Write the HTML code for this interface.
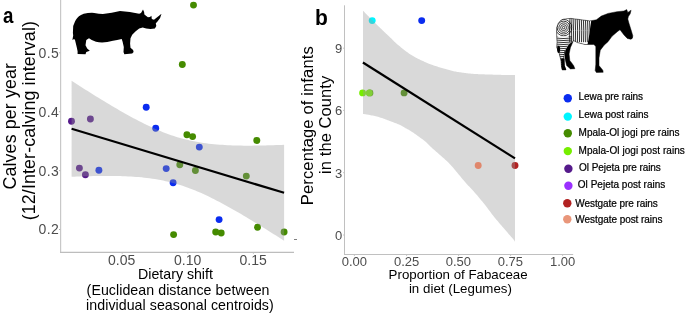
<!DOCTYPE html>
<html><head><meta charset="utf-8">
<style>
html,body{margin:0;padding:0;background:#fff;}
body{width:685px;height:315px;overflow:hidden;}
svg{display:block;will-change:transform;font-family:"Liberation Sans",sans-serif;}
.tk{fill:#4d4d4d;}
</style></head><body>
<svg width="685" height="315" viewBox="0 0 685 315" xmlns="http://www.w3.org/2000/svg">
<rect width="685" height="315" fill="#fff"/>

<!-- ================= PANEL A ================= -->
<!-- points (under ribbon) -->
<g id="ptsA">
<circle cx="71.5" cy="121.3" r="3.45" fill="#551A8B"/>
<circle cx="90.4" cy="119.0" r="3.45" fill="#551A8B"/>
<circle cx="79.4" cy="168.1" r="3.45" fill="#551A8B"/>
<circle cx="85.4" cy="174.7" r="3.45" fill="#551A8B"/>
<circle cx="98.9" cy="170.3" r="3.45" fill="#0a2cf0"/>
<circle cx="146.2" cy="107.2" r="3.45" fill="#0a2cf0"/>
<circle cx="155.7" cy="128.2" r="3.45" fill="#0a2cf0"/>
<circle cx="166.2" cy="168.6" r="3.45" fill="#0a2cf0"/>
<circle cx="173.1" cy="182.7" r="3.45" fill="#0a2cf0"/>
<circle cx="199.3" cy="147.1" r="3.45" fill="#0a2cf0"/>
<circle cx="219.1" cy="219.6" r="3.45" fill="#0a2cf0"/>
<circle cx="182.3" cy="64.5" r="3.45" fill="#458B00"/>
<circle cx="193.5" cy="5.1" r="3.45" fill="#458B00"/>
<circle cx="186.9" cy="134.8" r="3.45" fill="#458B00"/>
<circle cx="192.6" cy="136.6" r="3.45" fill="#458B00"/>
<circle cx="179.8" cy="164.8" r="3.45" fill="#458B00"/>
<circle cx="195.4" cy="170.5" r="3.45" fill="#458B00"/>
<circle cx="173.6" cy="234.6" r="3.45" fill="#458B00"/>
<circle cx="215.7" cy="232.0" r="3.45" fill="#458B00"/>
<circle cx="221.2" cy="233.0" r="3.45" fill="#458B00"/>
<circle cx="256.8" cy="140.5" r="3.45" fill="#458B00"/>
<circle cx="246.3" cy="176.1" r="3.45" fill="#458B00"/>
<circle cx="257.5" cy="227.2" r="3.45" fill="#458B00"/>
<circle cx="284.1" cy="232.0" r="3.45" fill="#458B00"/>
</g>
<path id="ribA" d="M71.60,80.84 74.29,82.57 76.98,84.29 79.67,86.01 82.36,87.72 85.05,89.43 87.74,91.12 90.43,92.81 93.12,94.49 95.81,96.16 98.50,97.82 101.19,99.48 103.88,101.12 106.57,102.74 109.26,104.36 111.95,105.96 114.64,107.55 117.33,109.12 120.02,110.68 122.71,112.21 125.40,113.73 128.09,115.23 130.78,116.71 133.47,118.16 136.16,119.59 138.85,120.99 141.54,122.37 144.23,123.71 146.92,125.02 149.61,126.30 152.30,127.55 154.99,128.76 157.68,129.92 160.37,131.05 163.06,132.14 165.75,133.18 168.44,134.18 171.13,135.13 173.82,136.03 176.51,136.89 179.19,137.70 181.88,138.46 184.57,139.17 187.26,139.84 189.95,140.46 192.64,141.04 195.33,141.57 198.02,142.06 200.71,142.51 203.40,142.93 206.09,143.30 208.78,143.64 211.47,143.95 214.16,144.22 216.85,144.46 219.54,144.68 222.23,144.87 224.92,145.04 227.61,145.18 230.30,145.30 232.99,145.40 235.68,145.48 238.37,145.55 241.06,145.60 243.75,145.63 246.44,145.65 249.13,145.65 251.82,145.64 254.51,145.62 257.20,145.59 259.89,145.55 262.58,145.50 265.27,145.44 267.96,145.37 270.65,145.29 273.34,145.21 276.03,145.12 278.72,145.02 281.41,144.91 284.10,144.80 L284.10,240.80 281.41,239.07 278.72,237.34 276.03,235.62 273.34,233.91 270.65,232.21 267.96,230.51 265.27,228.82 262.58,227.14 259.89,225.47 257.20,223.81 254.51,222.16 251.82,220.52 249.13,218.89 246.44,217.27 243.75,215.67 241.06,214.08 238.37,212.51 235.68,210.95 232.99,209.41 230.30,207.89 227.61,206.40 224.92,204.92 222.23,203.46 219.54,202.03 216.85,200.63 214.16,199.25 211.47,197.91 208.78,196.59 206.09,195.31 203.40,194.07 200.71,192.86 198.02,191.69 195.33,190.56 192.64,189.47 189.95,188.43 187.26,187.43 184.57,186.48 181.88,185.57 179.19,184.71 176.51,183.90 173.82,183.14 171.13,182.42 168.44,181.75 165.75,181.13 163.06,180.55 160.37,180.02 157.68,179.52 154.99,179.07 152.30,178.66 149.61,178.28 146.92,177.94 144.23,177.64 141.54,177.36 138.85,177.11 136.16,176.90 133.47,176.71 130.78,176.54 128.09,176.40 125.40,176.27 122.71,176.17 120.02,176.09 117.33,176.02 114.64,175.98 111.95,175.94 109.26,175.92 106.57,175.92 103.88,175.93 101.19,175.95 98.50,175.98 95.81,176.02 93.12,176.07 90.43,176.13 87.74,176.20 85.05,176.27 82.36,176.36 79.67,176.45 76.98,176.55 74.29,176.65 71.60,176.76 Z" fill="#999" fill-opacity="0.37"/>
<line x1="71.6" y1="128.8" x2="284.1" y2="192.8" stroke="#000" stroke-width="2.2"/>

<!-- axes A -->
<line x1="60.6" y1="0" x2="60.6" y2="252.95" stroke="#c8c8c8" stroke-width="1.2"/>
<line x1="60" y1="252.35" x2="294" y2="252.35" stroke="#bdbdbd" stroke-width="1.2"/>
<g stroke="#b0b0b0" stroke-width="1">
<line x1="59" y1="52.8" x2="60.2" y2="52.8"/>
<line x1="59" y1="111.7" x2="60.2" y2="111.7"/>
<line x1="59" y1="170.6" x2="60.2" y2="170.6"/>
<line x1="59" y1="229.5" x2="60.2" y2="229.5"/>
</g>
<g stroke="#d0d0d0" stroke-width="1">
<line x1="122.2" y1="252.9" x2="122.2" y2="254"/>
<line x1="187.8" y1="252.9" x2="187.8" y2="254"/>
<line x1="253.4" y1="252.9" x2="253.4" y2="254"/>
</g>
<g class="tk" font-size="14" text-anchor="end">
<text x="58.9" y="57.8" textLength="20.4">0.5</text>
<text x="58.9" y="116.7" textLength="20.4">0.4</text>
<text x="58.9" y="175.7" textLength="20.4">0.3</text>
<text x="58.9" y="234.3" textLength="20.4">0.2</text>
</g>
<g class="tk" font-size="14" text-anchor="middle">
<text x="121.7" y="265">0.05</text>
<text x="187.6" y="265">0.10</text>
<text x="253.1" y="265">0.15</text>
</g>
<g font-size="14.2" text-anchor="middle" fill="#000">
<text x="175.5" y="279.3" textLength="74.8">Dietary shift</text>
<text x="178.05" y="295.2" textLength="182.9">(Euclidean distance between</text>
<text x="179.9" y="310.2" textLength="187.6">individual seasonal centroids)</text>
</g>
<g font-size="17.8" text-anchor="middle" fill="#000">
<text transform="translate(15.6,126.3) rotate(-90)" textLength="126.4">Calves per year</text>
<text transform="translate(34.7,120.7) rotate(-90)" textLength="199.2">(12/Inter-calving interval)</text>
</g>
<text transform="translate(3.05,22.6) scale(0.85,1)" font-size="22" font-weight="bold">a</text>

<!-- rhino -->
<path fill="#000" d="M75,21.6 C76,19 78,16.5 81,15 L83.7,13.7 Q89,12.6 94.2,12.9 Q99,13.6 102.9,14.1 Q112,13.2 120,11.1 Q130,11.8 139.2,13.7 L141,12.9 L143,9.4 L144.1,12 L144.4,14.6 L147.9,17.2 L150,16.9 L151.4,15.8 L151.8,19 L154,19.8 L158.4,16.3 L161.5,13.7 L160.1,18.1 L157.5,21.6 L155.8,23.3 L156.3,26 L154.9,28.6 L150.5,29.1 L146.2,28.6 L142.7,27.4 L139.2,28.6 L135.7,31.2 L132.2,34.7 L130.5,38.2 L130.1,43.4 L130.5,47.8 L133.1,50 L133.6,52.1 L132.2,53.5 L124.3,54.2 L123.5,52.1 L123.8,46.9 L122.6,41.7 L121.7,39 Q117,40 113,40.8 Q103,43.5 96,41.7 Q91,40 89,38.2 L86.3,39.9 L85.5,45.2 L87.2,48.6 L89.8,50.7 L86.3,52.1 L85.5,54.2 L77.6,53.9 L77.6,51.3 L76.7,46.9 L75,39.9 L74.1,39 L72.4,39.9 L73.2,35.6 L72.9,32.9 L73.2,26 Z"/>

<line x1="294" y1="239.5" x2="297" y2="239.5" stroke="#808080" stroke-width="1"/>
<!-- ================= PANEL B ================= -->
<g id="ptsB">
<circle cx="421.7" cy="20.6" r="3.45" fill="#0a2cf0"/>
<circle cx="372.2" cy="20.6" r="3.45" fill="#00f5ff"/>
<circle cx="369.9" cy="92.9" r="3.45" fill="#458B00"/>
<circle cx="369.3" cy="92.9" r="3.45" fill="#76EE00"/>
<circle cx="362.6" cy="92.9" r="3.45" fill="#76EE00"/>
<circle cx="404.1" cy="92.9" r="3.45" fill="#458B00"/>
<circle cx="515.0" cy="165.5" r="3.45" fill="#B22222"/>
</g>
<path id="ribB" d="M363.00,10.70 363.87,11.60 364.75,12.50 365.62,13.40 366.49,14.31 367.37,15.21 368.24,16.11 369.12,17.00 370.00,17.90 370.88,18.79 371.77,19.69 372.65,20.58 373.54,21.47 374.43,22.36 375.32,23.24 376.21,24.12 377.10,25.00 378.00,25.87 378.90,26.74 379.80,27.61 380.70,28.47 381.60,29.34 382.50,30.19 383.40,31.05 384.30,31.90 385.22,32.77 386.16,33.66 387.12,34.56 388.08,35.45 389.00,36.32 389.87,37.14 390.68,37.91 391.40,38.60 392.01,39.20 392.51,39.72 392.94,40.18 393.32,40.60 393.69,41.00 394.08,41.40 394.50,41.83 395.00,42.30 395.57,42.81 396.17,43.34 396.80,43.88 397.46,44.42 398.12,44.98 398.79,45.52 399.45,46.07 400.10,46.60 400.74,47.13 401.38,47.65 402.02,48.17 402.66,48.69 403.29,49.21 403.93,49.71 404.57,50.21 405.20,50.70 405.83,51.18 406.45,51.65 407.08,52.11 407.70,52.57 408.32,53.02 408.95,53.45 409.57,53.88 410.20,54.30 410.83,54.71 411.47,55.10 412.11,55.49 412.74,55.86 413.38,56.23 414.02,56.59 414.66,56.95 415.30,57.30 415.94,57.65 416.57,57.99 417.21,58.32 417.85,58.64 418.49,58.96 419.13,59.28 419.76,59.59 420.40,59.90 421.04,60.20 421.68,60.50 422.33,60.80 422.97,61.09 423.61,61.37 424.25,61.65 424.88,61.93 425.50,62.20 426.10,62.46 426.67,62.71 427.23,62.95 427.78,63.19 428.35,63.43 428.95,63.68 429.60,63.93 430.30,64.20 431.07,64.48 431.89,64.78 432.75,65.08 433.64,65.39 434.56,65.70 435.48,66.00 436.40,66.31 437.30,66.60 438.20,66.89 439.10,67.17 440.02,67.45 440.93,67.72 441.85,68.00 442.77,68.27 443.69,68.54 444.60,68.80 445.51,69.06 446.43,69.33 447.34,69.59 448.25,69.85 449.16,70.10 450.07,70.35 450.99,70.58 451.90,70.80 452.81,71.01 453.72,71.20 454.64,71.39 455.55,71.56 456.46,71.73 457.37,71.89 458.29,72.05 459.20,72.20 460.11,72.35 461.02,72.49 461.94,72.62 462.85,72.74 463.76,72.86 464.68,72.98 465.59,73.09 466.50,73.20 467.42,73.30 468.35,73.41 469.29,73.50 470.22,73.59 471.14,73.68 472.05,73.76 472.94,73.83 473.80,73.90 474.61,73.96 475.37,74.00 476.10,74.04 476.82,74.08 477.55,74.11 478.31,74.13 479.12,74.17 480.00,74.20 480.95,74.24 481.96,74.28 483.01,74.31 484.09,74.35 485.20,74.39 486.33,74.42 487.47,74.46 488.60,74.50 489.74,74.54 490.91,74.58 492.10,74.62 493.29,74.66 494.50,74.69 495.70,74.73 496.91,74.77 498.10,74.80 499.30,74.83 500.52,74.86 501.75,74.89 502.98,74.91 504.19,74.94 505.37,74.96 506.51,74.98 507.60,75.00 508.63,75.02 509.60,75.03 510.53,75.04 511.43,75.06 512.32,75.07 513.20,75.08 514.09,75.09 515.00,75.10 L515.00,241.80 514.81,241.52 514.70,241.32 514.62,241.15 514.53,240.97 514.37,240.72 514.11,240.36 513.70,239.83 513.10,239.10 512.28,238.12 511.26,236.94 510.10,235.60 508.83,234.14 507.50,232.62 506.16,231.07 504.84,229.55 503.60,228.10 502.40,226.70 501.20,225.30 500.00,223.90 498.80,222.49 497.60,221.07 496.40,219.63 495.20,218.18 494.00,216.70 492.81,215.19 491.62,213.65 490.43,212.08 489.24,210.50 488.06,208.92 486.87,207.35 485.69,205.81 484.50,204.30 483.31,202.82 482.12,201.34 480.92,199.89 479.73,198.44 478.53,197.02 477.35,195.62 476.17,194.25 475.00,192.90 473.84,191.59 472.67,190.31 471.51,189.06 470.36,187.83 469.21,186.62 468.09,185.41 466.98,184.21 465.90,183.00 464.85,181.79 463.82,180.59 462.82,179.40 461.82,178.21 460.84,177.03 459.87,175.85 458.89,174.68 457.90,173.50 456.89,172.30 455.85,171.06 454.80,169.80 453.76,168.56 452.75,167.35 451.77,166.20 450.85,165.15 450.00,164.20 449.24,163.38 448.55,162.67 447.91,162.05 447.32,161.49 446.75,160.97 446.18,160.47 445.61,159.95 445.00,159.40 444.38,158.83 443.75,158.27 443.12,157.72 442.50,157.17 441.88,156.63 441.25,156.09 440.62,155.55 440.00,155.00 439.38,154.45 438.75,153.90 438.12,153.35 437.50,152.81 436.88,152.26 436.25,151.71 435.62,151.15 435.00,150.60 434.38,150.05 433.75,149.49 433.12,148.94 432.50,148.38 431.88,147.82 431.25,147.26 430.62,146.68 430.00,146.10 429.38,145.50 428.75,144.87 428.12,144.24 427.50,143.60 426.88,142.97 426.25,142.35 425.62,141.76 425.00,141.20 424.38,140.68 423.75,140.19 423.12,139.72 422.50,139.27 421.88,138.83 421.25,138.39 420.62,137.95 420.00,137.50 419.38,137.04 418.75,136.59 418.12,136.13 417.50,135.68 416.88,135.22 416.25,134.78 415.62,134.33 415.00,133.90 414.38,133.47 413.75,133.04 413.12,132.62 412.50,132.20 411.88,131.79 411.25,131.38 410.62,130.99 410.00,130.60 409.38,130.23 408.75,129.86 408.12,129.51 407.50,129.17 406.88,128.83 406.25,128.49 405.62,128.15 405.00,127.80 404.40,127.45 403.83,127.11 403.27,126.77 402.71,126.43 402.12,126.09 401.48,125.74 400.78,125.37 400.00,125.00 399.12,124.61 398.15,124.20 397.11,123.79 396.03,123.36 394.93,122.94 393.82,122.52 392.74,122.10 391.70,121.70 390.69,121.31 389.70,120.91 388.71,120.53 387.73,120.14 386.74,119.77 385.77,119.40 384.78,119.04 383.80,118.70 382.81,118.37 381.83,118.04 380.84,117.72 379.86,117.41 378.87,117.12 377.88,116.83 376.89,116.56 375.90,116.30 374.88,116.06 373.83,115.83 372.77,115.61 371.71,115.40 370.68,115.21 369.68,115.03 368.75,114.86 367.90,114.70 367.14,114.56 366.46,114.44 365.84,114.34 365.26,114.25 364.70,114.16 364.15,114.08 363.59,113.99 363.00,113.90 Z" fill="#999" fill-opacity="0.37"/>
<circle cx="478.2" cy="165.5" r="3.45" fill="#e0876c"/>
<line x1="362.9" y1="62.5" x2="515" y2="158.4" stroke="#000" stroke-width="2.2"/>

<line x1="344.5" y1="5.3" x2="344.5" y2="255" stroke="#c0c0c0" stroke-width="1"/>
<line x1="344" y1="254.5" x2="573.2" y2="254.5" stroke="#c0c0c0" stroke-width="1"/>
<g stroke="#c8c8c8" stroke-width="1">
<line x1="343" y1="48.2" x2="344" y2="48.2"/>
<line x1="343" y1="110.4" x2="344" y2="110.4"/>
<line x1="343" y1="172.7" x2="344" y2="172.7"/>
<line x1="343" y1="235.0" x2="344" y2="235.0"/>
<line x1="354.4" y1="255" x2="354.4" y2="256"/>
<line x1="406.6" y1="255" x2="406.6" y2="256"/>
<line x1="458.6" y1="255" x2="458.6" y2="256"/>
<line x1="510.6" y1="255" x2="510.6" y2="256"/>
<line x1="562.6" y1="255" x2="562.6" y2="256"/>
</g>
<g class="tk" font-size="13" text-anchor="end">
<text x="342.3" y="52.9">9</text>
<text x="342.3" y="115.2">6</text>
<text x="342.3" y="177.5">3</text>
<text x="342.3" y="239.8">0</text>
</g>
<g class="tk" font-size="13" text-anchor="middle">
<text x="354.4" y="265.6">0.00</text>
<text x="406.6" y="265.6">0.25</text>
<text x="458.4" y="265.6">0.50</text>
<text x="510.4" y="265.6">0.75</text>
<text x="562.6" y="265.6">1.00</text>
</g>
<g font-size="13.3" text-anchor="middle" fill="#000">
<text x="458.1" y="278.8" textLength="139">Proportion of Fabaceae</text>
<text x="460.4" y="292.9" textLength="103">in diet (Legumes)</text>
</g>
<g font-size="16.5" text-anchor="middle" fill="#000">
<text transform="translate(312.5,125.75) rotate(-90)" textLength="158.9">Percentage of infants</text>
<text transform="translate(331,124.8) rotate(-90)" textLength="98.2">in the County</text>
</g>
<text transform="translate(315.1,25.45) scale(0.955,1)" font-size="22" font-weight="bold">b</text>

<!-- legend -->
<g>
<circle cx="567.8" cy="98.2" r="4.2" fill="#0a2cf0"/>
<circle cx="567.8" cy="116.6" r="4.2" fill="#00f5ff"/>
<circle cx="567.8" cy="133.3" r="4.2" fill="#458B00"/>
<circle cx="567.8" cy="151.1" r="4.2" fill="#76EE00"/>
<circle cx="568.4" cy="168.7" r="4.2" fill="#551A8B"/>
<circle cx="568.4" cy="185.8" r="4.2" fill="#9B30FF"/>
<circle cx="567.3" cy="203.3" r="4.2" fill="#B22222"/>
<circle cx="567.3" cy="219.3" r="4.2" fill="#E9967A"/>
</g>
<g font-size="10" fill="#000" stroke="#000" stroke-width="0.22">
<text x="578.6" y="99.9" textLength="64.42">Lewa pre rains</text>
<text x="578.6" y="117.6" textLength="69.84">Lewa post rains</text>
<text x="578.6" y="135.7" textLength="100.98">Mpala-Ol jogi pre rains</text>
<text x="578.6" y="153.5" textLength="106.19">Mpala-Ol jogi post rains</text>
<text x="579.1" y="171.0" textLength="81.73">Ol Pejeta pre rains</text>
<text x="577.8" y="187.9" textLength="87.55">Ol Pejeta post rains</text>
<text x="575.3" y="207.2" textLength="82.53">Westgate pre rains</text>
<text x="575.3" y="223.2" textLength="87.25">Westgate post rains</text>
</g>

<!-- zebra -->
<g id="zebra"><defs><clipPath id="zc"><path d="M555,17 L591.8,17 Q590.3,26 589.5,33 Q588.5,40 587.2,46 L575,46 L573.2,41 L568.8,44.5 L565.4,50 L564.6,58 L565.2,66 L567,73 L555,73 Z"/></clipPath><clipPath id="zs"><path d="M560.9,20.3 Q563,18.9 565.3,18.9 L570.9,18.4 Q580,19.5 589.8,20.9 L596.4,19.8 L601.3,16.1 L608,13.4 L616.9,11.7 L624,11 L626.7,9.6 L627.8,12.4 L631.1,10.2 L630.2,13.8 L628.4,16.5 L627.8,19 L628.9,23 L631.4,31 L632.8,35.7 Q633,38.9 630.7,39.3 L627.3,38.4 L624,35 L620,29.7 L617.3,31.7 L612,36.3 L608,41.7 L604.1,45.2 L600.3,50.2 L599,57.9 L599,65.5 L602.8,70.2 L603.2,72.3 L596.4,72.5 L595.2,70.6 L595.8,64.2 L595.8,54 L595.8,46.4 L593.9,44.5 L585,44.5 L577.4,42.6 L573.5,40.5 L570.4,47.7 L569.1,54 L569.8,60.4 L573.6,65.5 L574.9,68.7 L570.4,68.9 L566.6,65.5 L564.9,57.9 L564.9,51 L563.6,57.9 L564.3,65.5 L566,69.9 L562.2,70 L561.5,66.7 L560.9,60.4 L559,52.8 L556.8,47.7 L557,42 L556.7,34.2 L556.7,27.6 Q557.5,23 560.9,20.3 Z"/></clipPath><clipPath id="zr"><circle cx="563.6" cy="27.6" r="9.2"/></clipPath><clipPath id="zb"><path d="M568.6,17 L592,17 L592,47 L568.6,47 Q566.5,36 568.6,17 Z"/></clipPath><clipPath id="zh"><path d="M555,35.5 Q563,40 572,35 L572,73 L555,73 Z"/></clipPath></defs><path d="M560.9,20.3 Q563,18.9 565.3,18.9 L570.9,18.4 Q580,19.5 589.8,20.9 L596.4,19.8 L601.3,16.1 L608,13.4 L616.9,11.7 L624,11 L626.7,9.6 L627.8,12.4 L631.1,10.2 L630.2,13.8 L628.4,16.5 L627.8,19 L628.9,23 L631.4,31 L632.8,35.7 Q633,38.9 630.7,39.3 L627.3,38.4 L624,35 L620,29.7 L617.3,31.7 L612,36.3 L608,41.7 L604.1,45.2 L600.3,50.2 L599,57.9 L599,65.5 L602.8,70.2 L603.2,72.3 L596.4,72.5 L595.2,70.6 L595.8,64.2 L595.8,54 L595.8,46.4 L593.9,44.5 L585,44.5 L577.4,42.6 L573.5,40.5 L570.4,47.7 L569.1,54 L569.8,60.4 L573.6,65.5 L574.9,68.7 L570.4,68.9 L566.6,65.5 L564.9,57.9 L564.9,51 L563.6,57.9 L564.3,65.5 L566,69.9 L562.2,70 L561.5,66.7 L560.9,60.4 L559,52.8 L556.8,47.7 L557,42 L556.7,34.2 L556.7,27.6 Q557.5,23 560.9,20.3 Z" fill="#000"/><g clip-path="url(#zc)"><g clip-path="url(#zs)"><rect x="555" y="17" width="37" height="56" fill="#fff"/><g clip-path="url(#zb)"><path d="M570.00,18 Q569.30,31 569.80,42.2 M571.95,18 Q571.25,31 571.75,42.2 M573.90,18 Q573.20,31 573.70,42.2 M575.85,18 Q575.15,31 575.65,42.2 M577.80,18 Q577.10,31 577.60,42.2 M579.75,18 Q579.05,31 579.55,42.2 M581.70,18 Q581.00,31 581.50,42.2 M583.65,18 Q582.95,31 583.45,42.2 M585.60,18 Q584.90,31 585.40,42.2 M587.55,18 Q586.85,31 587.35,42.2 M589.50,18 Q588.80,31 589.30,42.2" stroke="#000" stroke-width="0.8" fill="none"/></g><g clip-path="url(#zr)"><path d="M562.40,27.60 a1.20,1.20 0 1,1 2.40,0 a1.20,1.20 0 1,1 -2.40,0 M560.65,27.60 a2.95,2.95 0 1,1 5.90,0 a2.95,2.95 0 1,1 -5.90,0 M558.90,27.60 a4.70,4.70 0 1,1 9.40,0 a4.70,4.70 0 1,1 -9.40,0 M557.15,27.60 a6.45,6.45 0 1,1 12.90,0 a6.45,6.45 0 1,1 -12.90,0 M555.40,27.60 a8.20,8.20 0 1,1 16.40,0 a8.20,8.20 0 1,1 -16.40,0 M553.65,27.60 a9.95,9.95 0 1,1 19.90,0 a9.95,9.95 0 1,1 -19.90,0" stroke="#000" stroke-width="0.75" fill="none"/></g><g clip-path="url(#zh)"><path d="M555,36.0 L572,37.0 M555,38.0 L572,39.0 M555,40.0 L572,41.0 M555,42.0 L572,43.0 M555,44.0 L572,45.0 M555,46.0 L572,47.0 M555,48.0 L572,49.0 M555,50.0 L572,51.0 M555,52.0 L572,53.0 M555,54.0 L572,55.0 M555,56.0 L572,57.0 M555,58.0 L572,59.0 M555,60.0 L572,61.0 M555,62.0 L572,63.0 M555,64.0 L572,65.0 M555,66.0 L572,67.0 M555,68.0 L572,69.0 M555,70.0 L572,71.0 M555,72.0 L572,73.0 M555,74.0 L572,75.0" stroke="#000" stroke-width="0.8" fill="none"/></g></g></g><path d="M560.9,20.3 Q563,18.9 565.3,18.9 L570.9,18.4 Q580,19.5 589.8,20.9 L596.4,19.8 L601.3,16.1 L608,13.4 L616.9,11.7 L624,11 L626.7,9.6 L627.8,12.4 L631.1,10.2 L630.2,13.8 L628.4,16.5 L627.8,19 L628.9,23 L631.4,31 L632.8,35.7 Q633,38.9 630.7,39.3 L627.3,38.4 L624,35 L620,29.7 L617.3,31.7 L612,36.3 L608,41.7 L604.1,45.2 L600.3,50.2 L599,57.9 L599,65.5 L602.8,70.2 L603.2,72.3 L596.4,72.5 L595.2,70.6 L595.8,64.2 L595.8,54 L595.8,46.4 L593.9,44.5 L585,44.5 L577.4,42.6 L573.5,40.5 L570.4,47.7 L569.1,54 L569.8,60.4 L573.6,65.5 L574.9,68.7 L570.4,68.9 L566.6,65.5 L564.9,57.9 L564.9,51 L563.6,57.9 L564.3,65.5 L566,69.9 L562.2,70 L561.5,66.7 L560.9,60.4 L559,52.8 L556.8,47.7 L557,42 L556.7,34.2 L556.7,27.6 Q557.5,23 560.9,20.3 Z" fill="none" stroke="#000" stroke-width="0.45"/><ellipse cx="558.6" cy="49.3" rx="1.5" ry="3.6" fill="#000"/><path d="M561.0,59 L564.6,58.5 L564.6,65.5 L566.2,70 L562.2,70 L561.5,66.7 Z" fill="#000"/></g>
</svg>
</body></html>
